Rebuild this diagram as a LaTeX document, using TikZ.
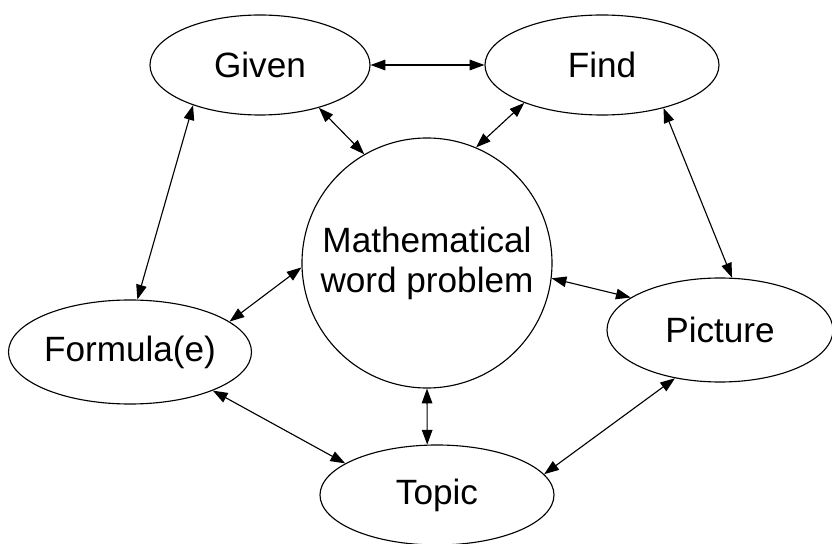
\documentclass[tikz,border=0pt]{standalone}
\usepackage{fontspec}
\setmainfont{Liberation Sans}
\usetikzlibrary{shapes.geometric, arrows.meta}

\begin{document}
\begin{tikzpicture}[
    line width=0.8pt,
    oval/.style={draw, ellipse, inner sep=0pt, font=\fontsize{25}{28.5}\selectfont},
    hub/.style={draw, circle, inner sep=0pt, minimum size=6.25cm, align=center,
                font=\fontsize{25}{28.5}\selectfont},
    link/.style={{Triangle[length=10.5pt,width=7.5pt]}-{Triangle[length=10.5pt,width=7.5pt]}}
]

    % --- Fixed frame ---
    \useasboundingbox (0,0) rectangle (20.8,-13.6);

    % --- Centre ---
    \node[hub] (mwp) at (10.675,-6.575) {Mathematical\\word problem};

    % --- Outer ovals ---
    \node[oval, minimum width=5.5cm,  minimum height=2.5cm] (given)   at (6.5,-1.625)   {Given};
    \node[oval, minimum width=5.85cm, minimum height=2.5cm] (find)    at (15.05,-1.625) {Find};
    \node[oval, minimum width=5.9cm,  minimum height=2.6cm] (formula) at (3.25,-8.8)    {Formula(e)};
    \node[oval, minimum width=5.65cm, minimum height=2.6cm] (picture) at (18.0,-8.25)   {Picture};
    \node[oval, minimum width=5.85cm, minimum height=2.5cm] (topic)   at (10.925,-12.375) {Topic};

    % --- Ring links ---
    \draw[link] (given.east) -- (find.west);
    \draw[link] (given.211.6) -- (formula.82);
    \draw[link] (find.-35.6) -- (picture.77);
    \draw[link] (formula.-25.7) -- (topic.161.7);
    \draw[link] (picture.227.5) -- (topic.11.3);

    % --- Spokes to the centre ---
    \draw[link] (given.-36) -- (mwp.120.7);
    \draw[link] (find.206.6) -- (mwp.67.8);
    \draw[link] (mwp.182) -- (formula.17.9);
    \draw[link] (mwp.-7.4) -- (picture.160.8);
    \draw[link] (mwp.south) -- (topic.101);

\end{tikzpicture}
\end{document}
